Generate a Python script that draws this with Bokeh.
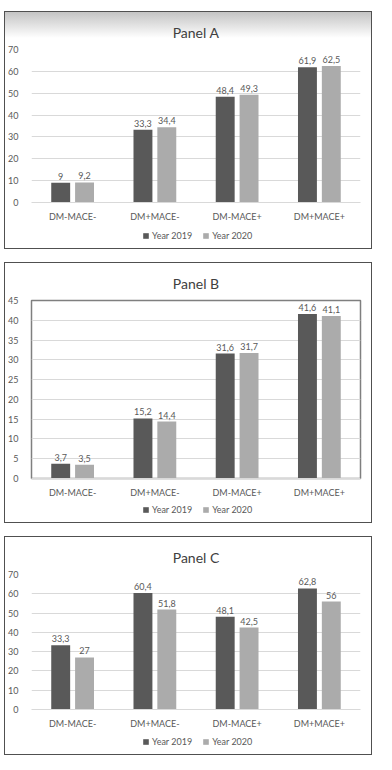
from bokeh.plotting import figure
from bokeh.models import Range1d, FactorRange, Legend, LegendItem, ColumnDataSource, SingleIntervalTicker
from bokeh.transform import dodge
from bokeh.layouts import column
from bokeh.core.properties import value
from bokeh.embed import file_html
from bokeh.resources import INLINE

categories = ["DM-MACE-", "DM+MACE-", "DM-MACE+", "DM+MACE+"]
series = ["Year 2019", "Year 2020"]
panel_titles = ["Panel A", "Panel B", "Panel C"]
a_2019 = [9, 33.3, 48.4, 61.9]
a_2020 = [9.2, 34.4, 49.3, 62.5]
b_2019 = [3.7, 15.2, 31.6, 41.6]
b_2020 = [3.5, 14.4, 31.7, 41.1]
c_2019 = [33.3, 60.4, 48.1, 62.8]
c_2020 = [27, 51.8, 42.5, 56]
y_max = [70, 45, 70]
y_step = [10, 5, 10]

FONT = "Lato"
DARK = "#595959"
LIGHT = "#ABABAB"
TXT = "#595959"
W = 366
LEG_H = 22


def fmt(v):
    return f"{v:g}".replace(".", ",")


def make_panel(title, v19, v20, ymax, step, inner_h, frame_top, frame_bottom, outline, margin, bg=None):
    src = ColumnDataSource(dict(
        cat=categories, v19=v19, v20=v20,
        l19=[fmt(v) for v in v19], l20=[fmt(v) for v in v20],
    ))
    main_h = inner_h - LEG_H
    p = figure(width=W, height=main_h, x_range=FactorRange(*categories, range_padding=0),
               y_range=Range1d(0, ymax), output_backend="svg", toolbar_location=None,
               min_border_left=24, min_border_right=11, min_border_top=frame_top,
               min_border_bottom=main_h - frame_bottom)
    p.border_fill_color = None
    p.background_fill_color = "white"
    if outline:
        p.outline_line_color = "#7F7F7F"
        p.outline_line_width = 1.5
    else:
        p.outline_line_color = None

    p.title.text = title
    p.title.align = "center"
    p.title.text_font = FONT
    p.title.text_font_size = "14px"
    p.title.text_font_style = "normal"
    p.title.text_color = "#404040"
    p.title.standoff = 18

    r1 = p.vbar(x=dodge("cat", -0.145, range=p.x_range), top="v19", width=0.23, source=src,
                fill_color=DARK, line_color=None)
    r2 = p.vbar(x=dodge("cat", 0.145, range=p.x_range), top="v20", width=0.23, source=src,
                fill_color=LIGHT, line_color=None)
    for col, lab, off in (("v19", "l19", -0.145), ("v20", "l20", 0.145)):
        p.text(x=dodge("cat", off, range=p.x_range), y=col, text=lab, source=src,
               text_align="center", text_baseline="bottom", y_offset=-3,
               text_font=value(FONT), text_font_size="9px", text_color=TXT)

    p.yaxis.ticker = SingleIntervalTicker(interval=step)
    p.yaxis.axis_line_color = None
    p.yaxis.major_tick_line_color = None
    p.yaxis.minor_tick_line_color = None
    p.yaxis.major_label_standoff = 7
    p.yaxis.major_label_text_font = FONT
    p.yaxis.major_label_text_font_size = "9px"
    p.yaxis.major_label_text_color = TXT

    p.xaxis.axis_line_color = "#D9D9D9"
    p.xaxis.major_tick_line_color = None
    p.xaxis.minor_tick_line_color = None
    p.xaxis.major_label_standoff = 2
    p.xaxis.major_label_text_font = FONT
    p.xaxis.major_label_text_font_size = "9px"
    p.xaxis.major_label_text_color = TXT

    p.xgrid.grid_line_color = None
    p.ygrid.grid_line_color = "#D9D9D9"

    # legend strip (a second, axis-less figure sharing the x range)
    lg = figure(width=W, height=LEG_H, x_range=p.x_range, y_range=Range1d(0, 1),
                output_backend="svg", toolbar_location=None,
                x_axis_location=None, y_axis_location=None,
                min_border_left=24, min_border_right=11, min_border_top=0, min_border_bottom=0)
    lg.border_fill_color = None
    lg.background_fill_color = None
    lg.outline_line_color = None
    lg.grid.visible = False
    k1 = lg.vbar(x=dodge("cat", -0.145, range=p.x_range), top="v19", width=0.23, source=src,
                 fill_color=DARK, line_color=None, visible=False)
    k2 = lg.vbar(x=dodge("cat", 0.145, range=p.x_range), top="v20", width=0.23, source=src,
                 fill_color=LIGHT, line_color=None, visible=False)
    legend = Legend(items=[LegendItem(label=series[0], renderers=[k1]),
                           LegendItem(label=series[1], renderers=[k2])],
                    orientation="horizontal", location=(111, 7))
    legend.glyph_width = 7
    legend.glyph_height = 7
    legend.label_height = 11
    legend.label_standoff = 3
    legend.spacing = 10
    legend.padding = 0
    legend.margin = 0
    legend.border_line_color = None
    legend.background_fill_alpha = 0
    legend.inactive_fill_alpha = 0
    legend.label_text_font = FONT
    legend.label_text_font_size = "9px"
    legend.label_text_color = TXT
    lg.add_layout(legend, "center")

    styles = {"border": "1px solid #505050"}
    if bg:
        styles["background"] = bg
    box = column(p, lg, spacing=0, styles=styles, margin=margin)
    return box


pA = make_panel(panel_titles[0], a_2019, a_2020, y_max[0], y_step[0], 236, 36, 190, False, (11, 0, 0, 4),
                bg="linear-gradient(#c4c4c4, #ffffff 26px)")
pB = make_panel(panel_titles[1], b_2019, b_2020, y_max[1], y_step[1], 259, 36, 215, True, (13, 0, 0, 4))
pC = make_panel(panel_titles[2], c_2019, c_2020, y_max[2], y_step[2], 217, 37, 172, False, (13, 0, 0, 4))

layout = column(pA, pB, pC, spacing=0)
open("out.html", "w").write(file_html(layout, INLINE))
